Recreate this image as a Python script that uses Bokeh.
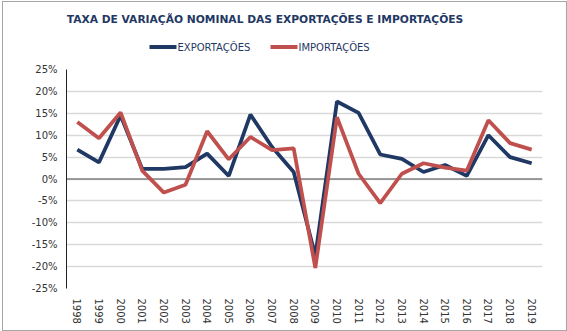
from bokeh.plotting import figure
from bokeh.layouts import column
from bokeh.models import (FactorRange, Span, PrintfTickFormatter, FixedTicker, Range1d,
                          ColumnDataSource)
from bokeh.core.properties import value
from bokeh.embed import file_html
from bokeh.resources import INLINE

years = [str(y) for y in range(1998, 2020)]
exportacoes = [6.7, 3.8, 14.5, 2.3, 2.3, 2.7, 5.8, 0.7, 14.7, 7.3, 1.6, -17.5,
               17.7, 15.1, 5.6, 4.6, 1.6, 3.2, 0.7, 10.0, 5.0, 3.6]
importacoes = [13.0, 9.3, 15.2, 1.9, -3.1, -1.3, 10.9, 4.5, 9.6, 6.6, 7.0, -20.3,
               14.1, 1.2, -5.5, 1.2, 3.6, 2.6, 1.9, 13.4, 8.2, 6.7]
y_ticks = [-25, -20, -15, -10, -5, 0, 5, 10, 15, 20, 25]
series_names = ["EXPORTAÇÕES", "IMPORTAÇÕES"]
series_colors = ["#1F3864", "#C0504D"]
title_txt = "TAXA DE VARIAÇÃO NOMINAL DAS EXPORTAÇÕES E IMPORTAÇÕES"
FONT = "DejaVu Sans"
W = 563
BL, BR = 63, 24   # borders shared by header and chart (frames are aligned)

# ---------- header: title + legend (x in canvas pixels) ----------
HH = 59
h = figure(width=W, height=HH, x_range=Range1d(BL, W - BR), y_range=Range1d(HH, 0),
           output_backend="svg", toolbar_location=None, x_axis_type=None,
           y_axis_type=None, min_border_left=BL, min_border_right=BR,
           min_border_top=0, min_border_bottom=0)
h.outline_line_color = None
h.xgrid.grid_line_color = None
h.ygrid.grid_line_color = None
h.text(x=[261.5], y=[17], text=[title_txt], text_align="center", text_baseline="middle",
       text_font=value(FONT), text_font_size="10.7px", text_font_style="bold",
       text_color="#1F3864")
leg_x = [146, 267]
for i, name in enumerate(series_names):
    x0 = leg_x[i]
    h.line(x=[x0, x0 + 27], y=[44.5, 44.5], line_color=series_colors[i], line_width=4)
    h.text(x=[x0 + 28], y=[44.5], text=[name], text_align="left", text_baseline="middle",
           text_font=value(FONT), text_font_size="10px", text_color="#1F3864")

# ---------- main chart ----------
src = ColumnDataSource(dict(year=years, exp=exportacoes, imp=importacoes))
p = figure(width=W, height=269, x_range=FactorRange(*years, range_padding=0),
           y_range=Range1d(-25, 25), output_backend="svg", toolbar_location=None,
           min_border_left=BL, min_border_right=BR, min_border_top=8,
           min_border_bottom=42)
p.outline_line_color = None
p.xgrid.grid_line_color = None
p.ygrid.grid_line_color = "#d9d9d9"
p.ygrid.grid_line_width = 1.5
p.yaxis.ticker = FixedTicker(ticks=y_ticks)
p.yaxis.formatter = PrintfTickFormatter(format="%d%%")

for ax in (p.xaxis[0], p.yaxis[0]):
    ax.major_tick_in = 0
    ax.major_tick_out = 0
    ax.minor_tick_in = 0
    ax.minor_tick_out = 0
    ax.major_label_text_font = FONT
    ax.major_label_text_font_size = "10px"
    ax.major_label_text_color = "#333333"
p.yaxis.axis_line_color = "#222222"
p.yaxis.axis_line_width = 1
p.yaxis.major_label_standoff = 9
p.xaxis.axis_line_color = None
p.xaxis.major_label_orientation = "vertical"
p.xaxis.major_label_standoff = 10

p.add_layout(Span(location=0, dimension="width", line_color="#7f7f7f",
                  line_width=1.5, level="underlay"))

p.line("year", "exp", source=src, line_color=series_colors[0], line_width=3.75)
p.line("year", "imp", source=src, line_color=series_colors[1], line_width=3.75)

layout = column(h, p, spacing=0)
layout.styles = {"border": "1px solid #a6a6a6", "margin-left": "2px", "margin-top": "1px"}

open("out.html", "w").write(file_html(layout, INLINE))
